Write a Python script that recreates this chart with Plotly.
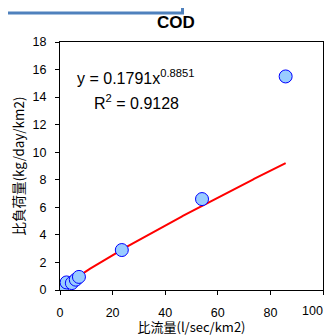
import numpy as np
import plotly.graph_objects as go

# Data
flow = [0.3, 0.8, 2.5, 4.5, 6.0, 7.2, 23.5, 54.0, 85.8]          # 比流量 (l/sec/km2)
load = [0.10, 0.15, 0.55, 0.50, 0.75, 0.95, 2.90, 6.60, 15.5]   # 比負荷量 (kg/day/km2)

# Power trendline coefficients shown on the chart
coef_a = 0.1791
coef_b = 0.8851
r2 = 0.9128

x_ticks = [0, 20, 40, 60, 80, 100]
y_ticks = [0, 2, 4, 6, 8, 10, 12, 14, 16, 18]

xt = np.linspace(min(flow), max(flow), 200)
yt = coef_a * xt ** coef_b

fig = go.Figure()
fig.add_trace(go.Scatter(x=xt, y=yt, mode="lines",
                         line=dict(color="#FF0000", width=2), hoverinfo="skip"))
fig.add_trace(go.Scatter(x=flow, y=load, mode="markers",
                         marker=dict(size=13, color="#99CCFF",
                                     line=dict(color="#0000FF", width=1))))

font_jp = "Noto Sans CJK JP, Liberation Sans, Arial"
OFF = 8  # page body margin
W, H = 332 - OFF, 336 - OFF
L = 60 - OFF
T = 42 - OFF
R = W - (323 - OFF)
B = H - (290 - OFF)
pw, ph = W - L - R, H - T - B

def px(xp):  # page x -> paper
    return (xp - OFF - L) / pw

def py(yp):  # page y -> paper
    return (H - B - (yp - OFF)) / ph

# last x tick label drawn as annotation so it stays inside the visible page
x_ticktext = [str(v) for v in x_ticks[:-1]] + [""]

fig.update_layout(
    width=W, height=H, margin=dict(l=L, r=R, t=T, b=B, autoexpand=False),
    paper_bgcolor="white", plot_bgcolor="white", showlegend=False,
    font=dict(family="Liberation Sans, Arial", color="black", size=12),
    xaxis=dict(range=[0, 100], tickvals=x_ticks, ticktext=x_ticktext,
               showgrid=False, zeroline=False,
               showline=True, linecolor="black", linewidth=1, mirror=True,
               ticks="outside", ticklen=4, tickcolor="black", automargin=False,
               tickfont=dict(size=12.5), ticklabelstandoff=7,
               title=dict(text="比流量(l/sec/km2)", font=dict(family=font_jp, size=13),
                          standoff=8)),
    yaxis=dict(range=[0, 18], tickvals=y_ticks, showgrid=False, zeroline=False,
               showline=True, linecolor="black", linewidth=1, mirror=True,
               ticks="outside", ticklen=4, tickcolor="black", automargin=False,
               tickfont=dict(size=12.5), ticklabelstandoff=6,
               title=dict(text="比負荷量(kg/day/km2)", font=dict(family=font_jp, size=13.5),
                          standoff=4)),
    annotations=[
        dict(text="<b>COD</b>", xref="paper", yref="paper", x=px(176), y=py(22),
             showarrow=False, font=dict(size=17, family="Liberation Sans, Arial"),
             xanchor="center", yanchor="middle"),
        dict(text=f"y = {coef_a}x<sup>{coef_b}</sup>", xref="paper", yref="paper",
             x=px(75), y=py(77), showarrow=False, xanchor="left", yanchor="middle",
             font=dict(size=16)),
        dict(text=f"R<sup>2</sup> = {r2}", xref="paper", yref="paper",
             x=px(92), y=py(102), showarrow=False, xanchor="left", yanchor="middle",
             font=dict(size=16)),
        dict(text=str(x_ticks[-1]), xref="x", yref="paper", x=x_ticks[-1], y=0,
             xanchor="right", yanchor="middle", xshift=2, yshift=-21,
             showarrow=False, font=dict(size=12.5)),
    ],
    shapes=[
        dict(type="rect", xref="paper", yref="paper",
             x0=px(-10), x1=px(182.5), y0=py(13), y1=py(-10),
             line=dict(color="#4F81BD", width=3), fillcolor="rgba(0,0,0,0)"),
    ],
)

fig.write_html("out.html")
